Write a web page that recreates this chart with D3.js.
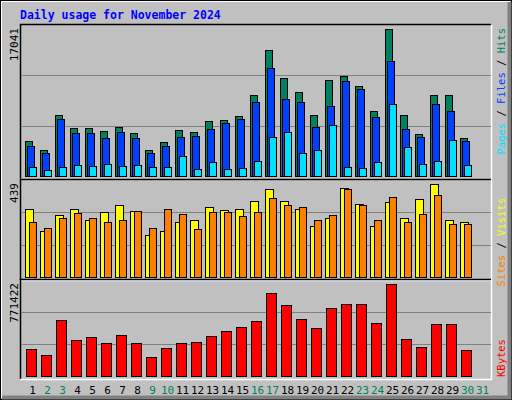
<!DOCTYPE html>
<html><head><meta charset="utf-8">
<script src="https://cdn.jsdelivr.net/npm/d3@7"></script>
<style>body{margin:0;background:#fff}</style>
</head><body><svg></svg>
<script>
// Data (day 31 has no data yet)
const days = d3.range(1, 32);
const weekend = [2, 3, 9, 10, 16, 17, 23, 24, 30, 31];
const hits   = [3950,2940,6890,5420,5420,5080,5530,4850,2940,3840,5190,4970,6210,6320,6770,9140,14230,11060,9480,6890,10840,11290,10160,7340,16600,6890,4740,9140,9140,4290];
const files  = [3390,2600,6440,4850,4850,4290,4970,4290,2600,3390,4400,4520,5310,5980,6440,8350,12190,8690,8350,5530,7900,10730,9820,6660,12980,5310,4400,8130,7340,3950];
const pages  = [1020,680,1020,1240,1130,1350,1130,1240,1020,1020,2260,790,1580,790,900,1690,4400,4970,2600,2940,5760,1020,900,1580,8130,3270,1350,1690,4060,1240];
const visits = [306,206,279,306,256,292,324,297,192,210,251,256,319,301,306,342,397,342,306,229,265,401,329,233,338,265,351,419,256,251];
const sites  = [251,224,265,288,265,251,260,297,220,306,283,215,292,292,274,292,356,324,319,256,279,397,324,260,360,247,283,369,242,238];
const kbytes = [220400,172000,446200,293000,317200,268800,333300,268800,155900,228500,268800,276900,325200,365600,389800,438100,663900,567200,454300,381700,543000,575200,575200,422000,736500,301100,236500,414000,414000,212400];
const maxHits = 17041, maxVisits = 439, maxKbytes = 771422;

const W = 512, H = 400;
const svg = d3.select("svg").attr("width", W).attr("height", H);
const mono = "DejaVu Sans Mono";

// frame
svg.append("rect").attr("width", W).attr("height", H).attr("fill", "#c0c0c0");
svg.append("rect").attr("x", 0.5).attr("y", 0.5).attr("width", W - 1).attr("height", H - 1)
    .attr("fill", "none").attr("stroke", "#000");
svg.append("path").attr("d", `M1.5,${H-2}V1.5H${W-2}`).attr("fill", "none").attr("stroke", "#fff");
svg.append("path").attr("d", `M2,${H-2.5}H${W-2.5}V2`).attr("fill", "none").attr("stroke", "#808080").attr("stroke-width", 4);

svg.append("text").attr("x", 20).attr("y", 19)
    .style("font-family", mono).style("font-size", "11.5px").style("font-weight", "bold")
    .attr("fill", "#0000ff").text("Daily usage for November 2024");

const x = d3.scaleBand().domain(days).range([25, 490]).paddingInner(0);
const left = 20, right = 491;

function panel(top, bottom, max, series, label, labelParts) {
    const y = d3.scaleLinear().domain([0, max]).range([bottom, top]);
    const g = svg.append("g");
    g.append("path").attr("d", `M${left+0.5},${bottom+3}V${top-0.5}H${right}`).attr("fill", "none").attr("stroke", "#000").attr("stroke-width", 1.5);
    g.append("path").attr("d", `M${left},${bottom+3.5}H${right+0.5}V${top}`).attr("fill", "none").attr("stroke", "#fff").attr("stroke-width", 1.5);
    [1, 2].forEach(k => g.append("line")
        .attr("x1", left + 1).attr("x2", right)
        .attr("y1", Math.round(y(max * k / 3)) + 0.5).attr("y2", Math.round(y(max * k / 3)) + 0.5)
        .attr("stroke", "#808080"));
    series.forEach(s => {
        g.selectAll(null).data(s.values).join("rect")
            .attr("x", (d, i) => x(days[i]) + s.off + 0.5)
            .attr("y", d => Math.round(y(d)) + 0.5)
            .attr("width", s.w)
            .attr("height", d => bottom - Math.round(y(d)))
            .attr("fill", s.color).attr("stroke", "#000");
    });
    g.append("text").attr("transform", `translate(18,${top + 3}) rotate(-90)`)
        .attr("text-anchor", "end").style("font-family", mono).style("font-size", "11px")
        .text(label);
    const t = g.append("text").attr("transform", `translate(505,${labelParts.y}) rotate(-90)`)
        .attr("text-anchor", labelParts.anchor).style("font-family", mono).style("font-size", "10.5px");
    labelParts.parts.forEach(p => t.append("tspan").attr("fill", p[1]).text(p[0]));
}

panel(25, 176, maxHits, [
    {values: hits, color: "#00805c", off: 0, w: 7},
    {values: files, color: "#0040ff", off: 2, w: 7},
    {values: pages, color: "#00e0ff", off: 4, w: 7}
], "17041", {y: 28, anchor: "end", parts: [["Pages", "#00e0ff"], [" / ", "#000"], ["Files", "#0040ff"], [" / ", "#000"], ["Hits", "#00805c"]]});

panel(180, 277, maxVisits, [
    {values: visits, color: "#ffff00", off: 0, w: 8},
    {values: sites, color: "#ff8000", off: 4, w: 7}
], "439", {y: 198, anchor: "end", parts: [["Sites", "#ff8000"], [" / ", "#000"], ["Visits", "#ffff00"]]});

panel(280, 376, maxKbytes, [
    {values: kbytes, color: "#ff0000", off: 1, w: 10}
], "771422", {y: 377, anchor: "start", parts: [["KBytes", "#ff0000"]]});

svg.selectAll("text.day").data(days).join("text").attr("class", "day")
    .attr("x", d => x(d) + 7.5).attr("y", 394)
    .attr("text-anchor", "middle").style("font-family", mono).style("font-size", "11px")
    .attr("fill", d => weekend.includes(d) ? "#00805c" : "#000")
    .text(d => d);
</script></body></html>
